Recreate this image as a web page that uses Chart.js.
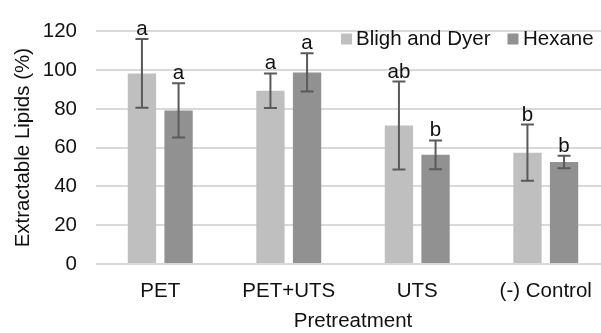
<!DOCTYPE html>
<html>
<head>
<meta charset="utf-8">
<script src="https://cdn.jsdelivr.net/npm/chart.js@4"></script>
<style>
  html, body { margin: 0; padding: 0; background: #ffffff; overflow: hidden; }
  #wrap { width: 612px; height: 333px; }
</style>
</head>
<body>
<div id="wrap"><canvas id="c" width="612" height="333"></canvas></div>
<script>
// Extractable lipid yield by pretreatment, two extraction methods
const categories = ['PET', 'PET+UTS', 'UTS', '(-) Control'];
const blighDyer = [98.3, 89.4, 71.4, 57.4];
const blighDyerSD = [17.7, 8.9, 22.7, 14.5];
const blighDyerGroups = ['a', 'a', 'ab', 'b'];
const hexane = [79.2, 98.8, 56.3, 52.6];
const hexaneSD = [14.0, 9.9, 7.4, 3.2];
const hexaneGroups = ['a', 'a', 'b', 'b'];
const yTicks = [0, 20, 40, 60, 80, 100, 120];

const FONT = { family: "'Liberation Sans', Arial, sans-serif", size: 20.5 };
const TEXT = '#111111';

// Error bars (±SD) and significance letters drawn on top of each bar
const errorBars = {
  id: 'errorBars',
  afterDatasetsDraw(chart) {
    const ctx = chart.ctx;
    const y = chart.scales.y;
    chart.data.datasets.forEach((ds, di) => {
      const meta = chart.getDatasetMeta(di);
      meta.data.forEach((bar, i) => {
        const v = ds.data[i], sd = ds.sd[i];
        const top = y.getPixelForValue(v + sd);
        const bot = y.getPixelForValue(v - sd);
        const x = bar.x;
        ctx.save();
        ctx.strokeStyle = '#5a5a5a';
        ctx.lineWidth = 2;
        ctx.beginPath();
        ctx.moveTo(x, top); ctx.lineTo(x, bot);
        ctx.moveTo(x - 6.5, top); ctx.lineTo(x + 6.5, top);
        ctx.moveTo(x - 6.5, bot); ctx.lineTo(x + 6.5, bot);
        ctx.stroke();
        ctx.fillStyle = TEXT;
        ctx.font = FONT.size + 'px ' + FONT.family;
        ctx.textAlign = 'center';
        ctx.textBaseline = 'alphabetic';
        ctx.fillText(ds.groups[i], x, top - 4);
        ctx.restore();
      });
    });
  }
};

// Legend placed inside the plot area, top right
const insideLegend = {
  id: 'insideLegend',
  afterDraw(chart) {
    const ctx = chart.ctx;
    const items = [
      { ds: chart.data.datasets[0], box: 341, text: 356 },
      { ds: chart.data.datasets[1], box: 507.5, text: 523 }
    ];
    ctx.save();
    ctx.font = FONT.size + 'px ' + FONT.family;
    ctx.textBaseline = 'middle';
    ctx.textAlign = 'left';
    items.forEach(it => {
      ctx.fillStyle = it.ds.backgroundColor;
      ctx.fillRect(it.box, 33.5, 11, 11);
      ctx.fillStyle = TEXT;
      ctx.fillText(it.ds.label, it.text, 39.5);
    });
    ctx.restore();
  }
};

new Chart(document.getElementById('c'), {
  type: 'bar',
  data: {
    labels: categories,
    datasets: [
      { label: 'Bligh and Dyer', data: blighDyer, sd: blighDyerSD, groups: blighDyerGroups,
        backgroundColor: '#bfbfbf' },
      { label: 'Hexane', data: hexane, sd: hexaneSD, groups: hexaneGroups,
        backgroundColor: '#919191' }
    ]
  },
  options: {
    responsive: false,
    animation: false,
    devicePixelRatio: 1,
    categoryPercentage: 0.57,
    barPercentage: 0.773,
    layout: { padding: { top: 17.5, right: 2, bottom: 0, left: 0 } },
    plugins: { legend: { display: false }, tooltip: { enabled: false } },
    scales: {
      x: {
        grid: { display: false },
        border: { display: false },
        ticks: { font: FONT, color: TEXT, padding: 7, maxRotation: 0 },
        title: { display: true, text: 'Pretreatment', font: FONT, color: TEXT,
                 padding: { top: 5, bottom: -1 } },
        afterFit(s) { s.height = 69; }
      },
      y: {
        min: 0, max: 120,
        afterBuildTicks(s) { s.ticks = yTicks.map(v => ({ value: v })); },
        grid: { color: '#d9d9d9', lineWidth: 2, drawTicks: false },
        border: { display: false },
        ticks: { font: FONT, color: TEXT, padding: 19 },
        title: { display: true, text: 'Extractable Lipids (%)', font: FONT, color: TEXT,
                 padding: { top: 10.7, bottom: 0 } },
        afterFit(s) { s.width = 96; }
      }
    }
  },
  plugins: [errorBars, insideLegend]
});
</script>
</body>
</html>
